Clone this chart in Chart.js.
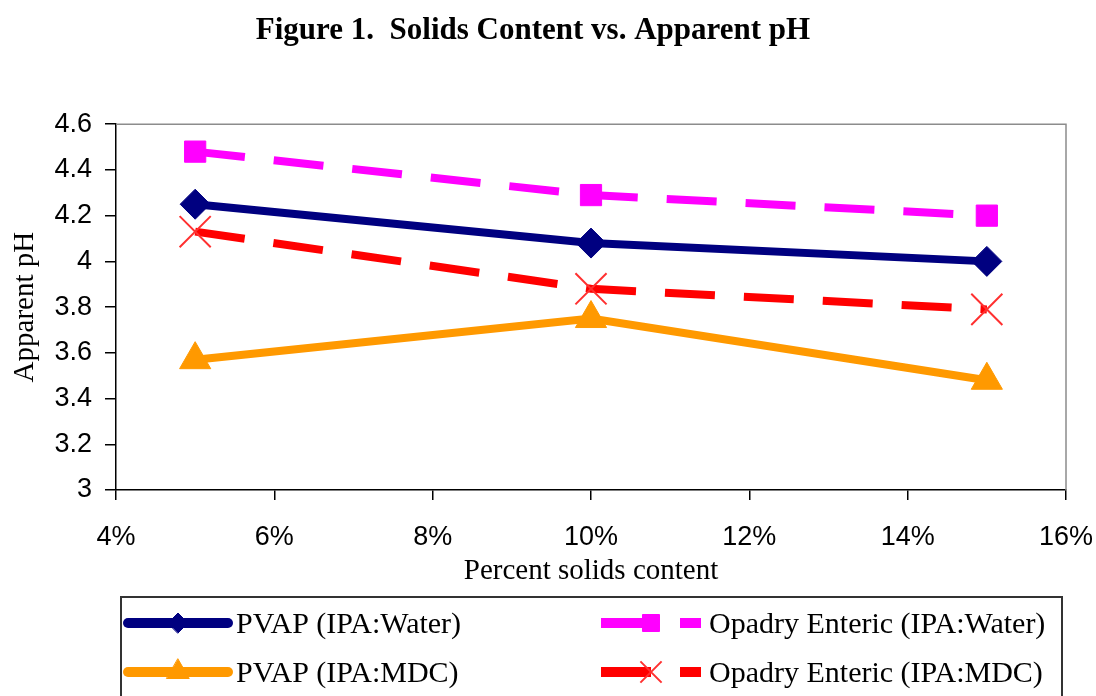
<!DOCTYPE html>
<html><head><meta charset="utf-8">
<script src="https://cdn.jsdelivr.net/npm/chart.js@4.4.1/dist/chart.umd.min.js"></script>
<style>html,body{margin:0;padding:0;background:#fff;overflow:hidden;}</style>
</head><body>
<canvas id="c" width="1096" height="696"></canvas>
<script>
// ---- data ----
const solidsPct = [5, 10, 15];                 // Percent solids content
const pvapWater = [4.25, 4.08, 4.00];          // PVAP (IPA:Water)
const opadryWater = [4.48, 4.29, 4.20];        // Opadry Enteric (IPA:Water)
const pvapMDC = [3.57, 3.75, 3.48];            // PVAP (IPA:MDC)
const opadryMDC = [4.13, 3.88, 3.79];          // Opadry Enteric (IPA:MDC)
const seriesLabels = ['PVAP (IPA:Water)', 'Opadry Enteric (IPA:Water)', 'PVAP (IPA:MDC)', 'Opadry Enteric (IPA:MDC)'];
const xTickValues = [4, 6, 8, 10, 12, 14, 16];
const yTickValues = [3, 3.2, 3.4, 3.6, 3.8, 4, 4.2, 4.4, 4.6];
const titleText = 'Figure 1.  Solids Content vs. Apparent pH';
const xTitle = 'Percent solids content';
const yTitle = 'Apparent pH';

const SERIF = '"Liberation Serif", "Times New Roman", serif';
const SANS = '"Liberation Sans", Arial, sans-serif';

function pts(arr) { return solidsPct.map((x, i) => ({ x: x, y: arr[i] })); }

const datasets = [
  { label: seriesLabels[0], data: pts(pvapWater), borderColor: '#000080', backgroundColor: '#000080',
    borderWidth: 8, pointStyle: 'rectRot', pointRadius: 15, pointBorderWidth: 1, legendRadius: 10, borderCapStyle: 'round' },
  { label: seriesLabels[1], data: pts(opadryWater), borderColor: '#FF00FF', backgroundColor: '#FF00FF',
    borderWidth: 8, borderDash: [50, 29], pointStyle: 'rect', pointRadius: 15, pointBorderWidth: 1, legendRadius: 12 },
  { label: seriesLabels[2], data: pts(pvapMDC), borderColor: '#FF9900', backgroundColor: '#FF9900',
    borderWidth: 8, pointStyle: 'triangle', pointRadius: 18, pointBorderWidth: 1, legendRadius: 13, borderCapStyle: 'round' },
  { label: seriesLabels[3], data: pts(opadryMDC), borderColor: '#FF0000', backgroundColor: '#FF0000',
    pointBorderColor: '#FF3030', borderWidth: 8, borderDash: [50, 29], pointStyle: 'crossRot', pointRadius: 22,
    pointBorderWidth: 2, legendRadius: 15 }
];
datasets.forEach(d => { d.tension = 0; d.fill = false; d.clip = false; d.pointHoverRadius = d.pointRadius; });

const framePlugin = {
  id: 'frame',
  beforeDatasetsDraw(chart) {
    const { ctx, chartArea: a } = chart;
    ctx.save();
    ctx.strokeStyle = '#8c8c8c';
    ctx.lineWidth = 1.5;
    ctx.beginPath();
    ctx.moveTo(a.left, a.top);
    ctx.lineTo(a.right, a.top);
    ctx.lineTo(a.right, a.bottom);
    ctx.stroke();
    ctx.restore();
  }
};

const legendPlugin = {
  id: 'boxLegend',
  afterDraw(chart) {
    const ctx = chart.ctx;
    ctx.save();
    ctx.strokeStyle = '#333';
    ctx.lineWidth = 2;
    ctx.strokeRect(121, 597, 941, 140);
    const colX = [128, 601];
    const rowY = [623, 672];
    const sampleLen = 100;
    chart.data.datasets.forEach((ds, i) => {
      const x0 = colX[i % 2], y = rowY[Math.floor(i / 2)];
      ctx.save();
      ctx.strokeStyle = ds.borderColor;
      ctx.lineWidth = 10;
      ctx.lineCap = ds.borderDash ? 'butt' : 'round';
      ctx.setLineDash(ds.borderDash || []);
      ctx.beginPath();
      ctx.moveTo(x0, y);
      ctx.lineTo(x0 + sampleLen, y);
      ctx.stroke();
      ctx.setLineDash([]);
      ctx.fillStyle = ds.backgroundColor;
      ctx.strokeStyle = ds.pointBorderColor || ds.borderColor;
      ctx.lineWidth = ds.pointBorderWidth;
      Chart.helpers.drawPoint(ctx, { pointStyle: ds.pointStyle, radius: ds.legendRadius, borderWidth: ds.pointBorderWidth, rotation: 0 }, x0 + sampleLen / 2, y);
      ctx.restore();
      ctx.fillStyle = '#000';
      ctx.font = '30px ' + SERIF;
      ctx.textBaseline = 'alphabetic';
      ctx.textAlign = 'left';
      ctx.fillText(ds.label, x0 + sampleLen + 8, y + 10);
    });
    ctx.restore();
  }
};

new Chart(document.getElementById('c'), {
  type: 'line',
  data: { datasets: datasets },
  options: {
    responsive: false,
    animation: false,
    devicePixelRatio: 1,
    layout: { padding: { left: 0, right: 30, top: 0, bottom: 0 } },
    plugins: {
      legend: { display: false },
      tooltip: { enabled: false },
      title: {
        display: true, text: titleText, color: '#000',
        font: { family: SERIF, size: 31, weight: 'bold' },
        padding: { top: 12, bottom: 75 }
      }
    },
    scales: {
      x: {
        type: 'linear', min: 4, max: 16,
        afterBuildTicks: s => { s.ticks = xTickValues.map(v => ({ value: v })); },
        afterFit: s => { s.height = 206; s.paddingLeft = 0; s.paddingRight = 0; },
        ticks: { callback: v => v + '%', color: '#000', font: { family: SANS, size: 27 }, padding: 21, maxRotation: 0, autoSkip: false },
        grid: { drawOnChartArea: false, drawTicks: true, tickLength: 10, color: '#000', lineWidth: 1.5 },
        border: { color: '#000', width: 1.5 },
        title: { display: true, text: xTitle, color: '#000', font: { family: SERIF, size: 29 }, padding: { top: 0, bottom: 107 } }
      },
      y: {
        type: 'linear', min: 3, max: 4.6,
        afterBuildTicks: s => { s.ticks = yTickValues.map(v => ({ value: v })); },
        afterFit: s => { s.width = 116; s.paddingTop = 0; s.paddingBottom = 0; },
        ticks: { callback: v => String(Math.round(v * 10) / 10), color: '#000', font: { family: SANS, size: 27 }, padding: 13, autoSkip: false },
        grid: { drawOnChartArea: false, drawTicks: true, tickLength: 11, color: '#000', lineWidth: 1.5 },
        border: { color: '#000', width: 1.5 },
        title: { display: true, text: yTitle, color: '#000', font: { family: SERIF, size: 29 }, padding: { top: 8, bottom: 0 } }
      }
    }
  },
  plugins: [framePlugin, legendPlugin]
});
</script>
</body></html>
